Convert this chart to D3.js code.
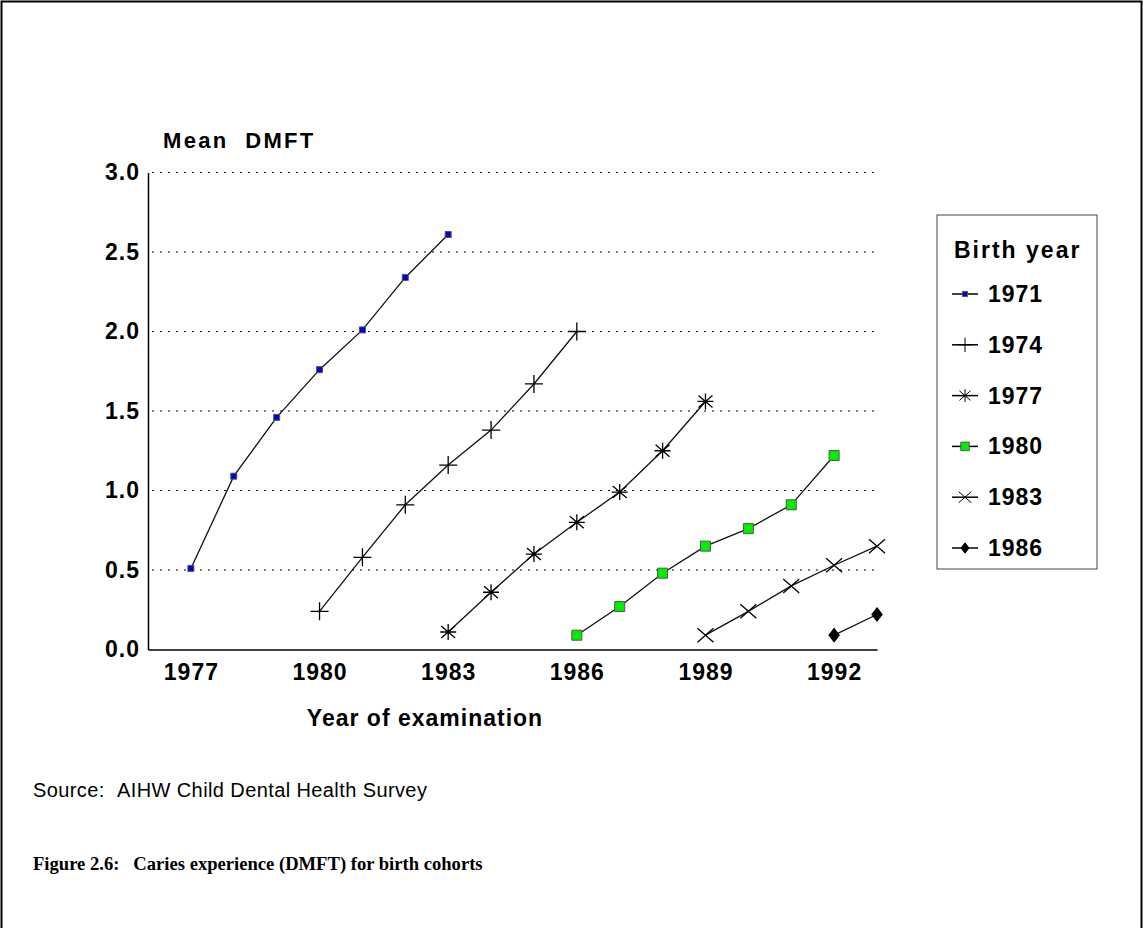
<!DOCTYPE html>
<html>
<head>
<meta charset="utf-8">
<script src="https://cdn.jsdelivr.net/npm/d3@7"></script>
<style>
  body { margin: 0; background: #fff; }
  svg text { font-family: "Liberation Sans", Arial, sans-serif; }
</style>
</head>
<body>
<svg id="chart" width="1143" height="928"></svg>
<script>
// birth cohorts and the year each was first examined
const cohorts = ["1971", "1974", "1977", "1980", "1983", "1986"];
const firstExam = [1977, 1980, 1983, 1986, 1989, 1992];

// mean DMFT per examination year, one array per cohort
const dmft1971 = [0.51, 1.09, 1.46, 1.76, 2.01, 2.34, 2.61];
const dmft1974 = [0.24, 0.58, 0.91, 1.16, 1.38, 1.67, 2.00];
const dmft1977 = [0.11, 0.36, 0.60, 0.80, 0.99, 1.25, 1.56];
const dmft1980 = [0.09, 0.27, 0.48, 0.65, 0.76, 0.91, 1.22];
const dmft1983 = [0.09, 0.24, 0.40, 0.53, 0.65];
const dmft1986 = [0.09, 0.22];

const xTicks = [1977, 1980, 1983, 1986, 1989, 1992];
const yTicks = [0, 0.5, 1.0, 1.5, 2.0, 2.5, 3.0];

var series = [dmft1971, dmft1974, dmft1977, dmft1980, dmft1983, dmft1986].map(function (vals, i) {
    return {
        name: cohorts[i],
        points: vals.map(function (v, j) { return { year: firstExam[i] + j, value: v }; })
    };
});

var svg = d3.select("#chart");

// frame round the figure
svg.append("path")
    .attr("d", "M1.5,930 L1.5,1.5 L1141.5,1.5 L1141.5,930")
    .attr("fill", "none")
    .attr("stroke", "#000")
    .attr("stroke-width", 2);

var x = d3.scaleLinear().domain([1976, 1993]).range([148, 877]);
var y = d3.scaleLinear().domain([0, 3]).range([649.5, 172.5]);

// dotted gridlines
svg.append("g").selectAll("line")
    .data(yTicks.filter(function (d) { return d > 0; }))
    .enter().append("line")
    .attr("x1", x(1976) + 4).attr("x2", x(1993))
    .attr("y1", function (d) { return y(d); })
    .attr("y2", function (d) { return y(d); })
    .attr("stroke", "#000")
    .attr("stroke-width", 1)
    .attr("stroke-dasharray", "2,6");

var labelStyle = function (sel) {
    sel.style("font-size", "23px").style("font-weight", "bold")
        .style("letter-spacing", "1px").attr("fill", "#000");
};

var yAxis = svg.append("g")
    .attr("transform", "translate(" + x(1976) + ",0)")
    .call(d3.axisLeft(y).tickValues(yTicks).tickSize(0).tickPadding(8).tickFormat(d3.format(".1f")));
yAxis.select(".domain").attr("stroke", "#000").attr("stroke-width", 1.5);
yAxis.selectAll("text").call(labelStyle).style("font-family", "Liberation Sans");

var xAxis = svg.append("g")
    .attr("transform", "translate(0," + y(0) + ")")
    .call(d3.axisBottom(x).tickValues(xTicks).tickSize(0).tickPadding(14).tickFormat(d3.format("d")));
xAxis.select(".domain").attr("stroke", "#000").attr("stroke-width", 1.5);
xAxis.selectAll("text").call(labelStyle).style("font-family", "Liberation Sans");

// marker shapes
function markerPath(k, s) {
    if (k === 0) return "M" + (-3 * s) + "," + (-3 * s) + "h" + (6 * s) + "v" + (6 * s) + "h" + (-6 * s) + "Z";
    if (k === 1) return "M" + (-9 * s) + ",0H" + (9 * s) + "M0," + (-9 * s) + "V" + (9 * s);
    if (k === 2) return "M" + (-8 * s) + ",0H" + (8 * s) + "M0," + (-8 * s) + "V" + (8 * s) +
        "M" + (-7 * s) + "," + (-6 * s) + "L" + (7 * s) + "," + (6 * s) +
        "M" + (-7 * s) + "," + (6 * s) + "L" + (7 * s) + "," + (-6 * s);
    if (k === 3) return "M" + (-5 * s) + "," + (-5 * s) + "h" + (10 * s) + "v" + (10 * s) + "h" + (-10 * s) + "Z";
    if (k === 4) return "M" + (-8 * s) + "," + (-7 * s) + "L" + (8 * s) + "," + (7 * s) +
        "M" + (-8 * s) + "," + (7 * s) + "L" + (8 * s) + "," + (-7 * s);
    return "M0," + (-6.5 * s) + "L" + (5 * s) + ",0L0," + (6.5 * s) + "L" + (-5 * s) + ",0Z";
}
var markerFill = ["#0000dd", "none", "none", "#00ee00", "none", "#000"];
var markerStroke = ["#555", "#000", "#000", "#555", "#000", "#000"];

var line = d3.line()
    .x(function (d) { return x(d.year); })
    .y(function (d) { return y(d.value); });

var g = svg.append("g").selectAll("g")
    .data(series)
    .enter().append("g");

g.append("path")
    .attr("d", function (d) { return line(d.points); })
    .attr("fill", "none")
    .attr("stroke", "#111")
    .attr("stroke-width", 1.3);

g.each(function (d, i) {
    d3.select(this).selectAll(".pt")
        .data(d.points)
        .enter().append("path")
        .attr("class", "pt")
        .attr("transform", function (p) { return "translate(" + x(p.year) + "," + y(p.value) + ")"; })
        .attr("d", markerPath(i, 1))
        .attr("fill", markerFill[i])
        .attr("stroke", markerStroke[i])
        .attr("stroke-width", i === 0 || i === 3 ? 1 : 1.3);
});

// axis titles
svg.append("text")
    .attr("x", 163).attr("y", 148)
    .attr("xml:space", "preserve")
    .style("white-space", "pre")
    .text("Mean  DMFT")
    .call(labelStyle)
    .style("font-size", "22px").style("letter-spacing", "2.3px");

svg.append("text")
    .attr("x", 425).attr("y", 726)
    .attr("text-anchor", "middle")
    .text("Year of examination")
    .call(labelStyle);

// legend
var legend = svg.append("g");
legend.append("rect")
    .attr("x", 937).attr("y", 215).attr("width", 160).attr("height", 354)
    .attr("fill", "#fff").attr("stroke", "#444").attr("stroke-width", 1);
legend.append("text")
    .attr("x", 954).attr("y", 258)
    .text("Birth year")
    .call(labelStyle)
    .style("letter-spacing", "2px");

var item = legend.selectAll(".item")
    .data(cohorts)
    .enter().append("g")
    .attr("class", "item")
    .attr("transform", function (d, i) { return "translate(965," + (294 + i * 50.8) + ")"; });
item.append("line")
    .attr("x1", -13).attr("x2", 13)
    .attr("stroke", "#000").attr("stroke-width", 1.5);
item.append("path")
    .attr("d", function (d, i) { return markerPath(i, i === 0 || i === 3 ? 0.85 : 0.8); })
    .attr("fill", function (d, i) { return markerFill[i]; })
    .attr("stroke", function (d, i) { return markerStroke[i]; })
    .attr("stroke-width", 1);
item.append("text")
    .attr("x", 23).attr("y", 8)
    .text(function (d) { return d; })
    .call(labelStyle);

// source and caption
var src = svg.append("text")
    .attr("y", 797)
    .style("font-size", "20px")
    .style("letter-spacing", "0.4px");
src.append("tspan").attr("x", 33).text("Source:");
src.append("tspan").attr("x", 117).text("AIHW Child Dental Health Survey");

svg.append("text")
    .attr("x", 33).attr("y", 870)
    .attr("xml:space", "preserve")
    .style("white-space", "pre")
    .style("font-family", "'Liberation Serif', 'Times New Roman', serif")
    .style("font-size", "18.6px")
    .style("font-weight", "bold")
    .text("Figure 2.6:   Caries experience (DMFT) for birth cohorts");
</script>
</body>
</html>
